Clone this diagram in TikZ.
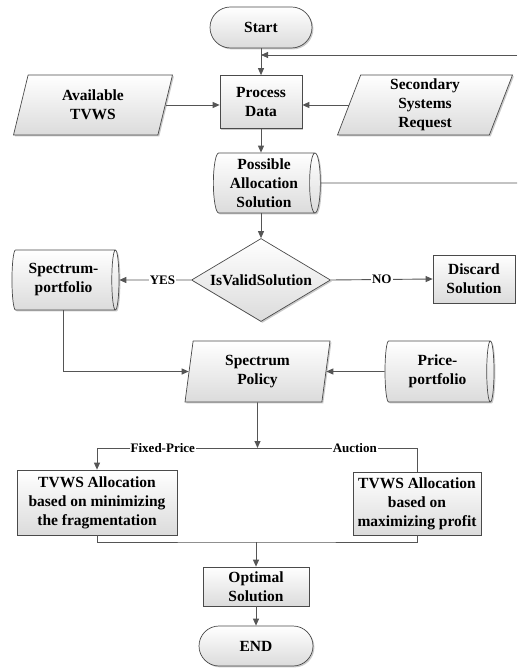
\documentclass[tikz,border=0pt]{standalone}
\usepackage{fontspec}
\setmainfont{Liberation Serif}
\usetikzlibrary{shapes.geometric,shapes.misc,shadows,arrows.meta,positioning}
\definecolor{linec}{HTML}{555555}
\definecolor{edgec}{HTML}{4A4A4A}
\tikzset{
  base/.style={draw=edgec, line width=0.7pt, top color=white, bottom color=black!14,
     drop shadow={shadow xshift=1.4pt, shadow yshift=-1.4pt, opacity=0.35, fill=black!60},
     font=\fontsize{15.5}{19}\selectfont\bfseries, align=center, inner sep=0pt},
  procbox/.style={base, rectangle},
  termbox/.style={base, rounded rectangle},
  iobox/.style={base, trapezium, trapezium stretches body},
  storebox/.style={base, cylinder, shape border rotate=0, aspect=0.22},
  decbox/.style={base, diamond, aspect=1.67},
  conn/.style={draw=linec, line width=0.9pt},
  arr/.style={conn, -{Triangle[length=7pt,width=6pt]}},
  lbl/.style={fill=white, inner sep=1pt, font=\fontsize{13}{15}\selectfont\bfseries}
}
\begin{document}
\begin{tikzpicture}[x=1pt,y=-1pt]
\useasboundingbox (0,0) rectangle (517,668);
% nodes
\node[termbox, minimum width=102pt, minimum height=41pt] (start) at (261,27.5) {Start};
\node[procbox, minimum width=82pt, minimum height=53pt] (pd) at (261,102) {Process\\Data};
\node[iobox, trapezium left angle=64, trapezium right angle=116, minimum width=159pt, minimum height=60pt] (at) at (93,105) {Available\\TVWS};
\node[iobox, trapezium left angle=66, trapezium right angle=114, minimum width=175pt, minimum height=60pt] (ssr) at (425,105) {Secondary\\Systems\\Request};
\node[storebox, minimum height=107pt, minimum width=60pt] (pas) at (264,183) {Possible\\Allocation\\Solution};
\node[decbox, minimum width=139pt, minimum height=83pt] (dec) at (261,280) {IsValidSolution};
\node[storebox, minimum height=107pt, minimum width=60pt] (sp) at (63.5,280) {Spectrum-\\portfolio};
\node[procbox, minimum width=82pt, minimum height=48pt] (ds) at (474,279) {Discard\\Solution};
\node[iobox, trapezium left angle=76, trapezium right angle=104, minimum width=145pt, minimum height=61pt] (pol) at (257.5,371.5) {Spectrum\\Policy};
\node[storebox, minimum height=109pt, minimum width=61pt] (pp) at (437.5,371.5) {Price-\\portfolio};
\node[procbox, minimum width=160pt, minimum height=65pt] (lb) at (97,502.5) {TVWS Allocation\\based on minimizing\\the fragmentation};
\node[procbox, minimum width=128pt, minimum height=63pt] (rb) at (417,503.5) {TVWS Allocation\\based on\\maximizing profit};
\node[procbox, minimum width=106pt, minimum height=39pt] (opt) at (256,586.5) {Optimal\\Solution};
\node[termbox, minimum width=114pt, minimum height=40pt] (end) at (256,646) {END};
% coordinates
\coordinate (fbR) at (517,55);
\coordinate (pasR) at (517,183);
\coordinate (junc) at (257.5,448);
\coordinate (merge) at (256,542);
% connectors
\draw[arr] (start.south) -- (pd.north);
\draw[arr] (fbR) -- (start.south |- fbR);
\draw[conn] (pas.east) -- (pasR);
\draw[arr] (at.east) -- (at.east -| pd.west);
\draw[arr] (ssr.west) -- (ssr.west -| pd.east);
\draw[arr] (pd.south) -- (pd.south |- pas.north);
\draw[arr] (pd.south |- pas.south) -- (dec.north);
\draw[arr] (dec.west) -- node[lbl, pos=0.4]{YES} (sp.east);
\draw[arr] (dec.east) -- node[lbl, pos=0.5]{NO} (ds.west);
\draw[arr] (sp.south) |- (pol.west);
\draw[arr] (pp.west) -- (pol.east);
\draw[arr] (pol.south) -- (junc);
\draw[arr] (junc) -- node[lbl, pos=0.59]{Fixed-Price} (junc -| lb.north) -- (lb.north);
\draw[conn] (junc) -- node[lbl, pos=0.61]{Auction} (junc -| rb.north) -- (rb.north);
\draw[conn] (lb.south) |- (merge) -| (rb.south);
\draw[arr] (merge) -- (opt.north);
\draw[arr] (opt.south) -- (end.north);
\end{tikzpicture}
\end{document}
